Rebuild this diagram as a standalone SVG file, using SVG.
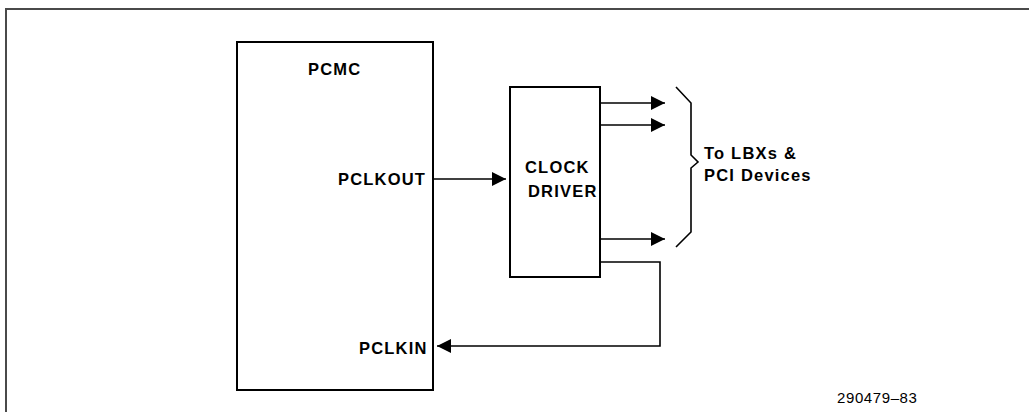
<svg xmlns="http://www.w3.org/2000/svg" width="1029" height="412" viewBox="0 0 1029 412">
<style>
.box{fill:#fff;stroke:#000;stroke-width:2}
.ln{fill:none;stroke:#000;stroke-width:1.6}
.lb{font-family:"Liberation Sans",Arial,sans-serif;font-weight:bold;font-size:16.5px;letter-spacing:1.2px;fill:#000}
.fn{font-family:"Liberation Sans",Arial,sans-serif;font-size:15px;letter-spacing:0.6px;fill:#000}
</style>
<defs>
<marker id="ah" viewBox="0 0 14 14" refX="14" refY="7" markerWidth="14" markerHeight="14" markerUnits="userSpaceOnUse" orient="auto">
<path d="M0,0 L14,7 L0,14 Z" fill="#000"/>
</marker>
</defs>
<rect width="1029" height="412" fill="#fff"/>
<g id="frame">
<path d="M6,412 V9 H1029" fill="none" stroke="#4a4a4a" stroke-width="2"/>
</g>
<g id="pcmc">
<rect class="box" x="237" y="42" width="196" height="348"/>
<text class="lb" x="308" y="75">PCMC</text>
<text class="lb" x="338" y="185">PCLKOUT</text>
<text class="lb" x="359" y="354">PCLKIN</text>
</g>
<g id="clockdriver">
<rect class="box" x="510" y="87" width="90" height="190"/>
<text class="lb" x="525" y="173">CLOCK</text>
<text class="lb" x="528" y="197">DRIVER</text>
</g>
<g id="targets">
<path class="ln" d="M676,87 L691,103 V155 L698,162 L691,168 V232 L676,247"/>
<text class="lb" x="704" y="159">To LBXs &amp;</text>
<text class="lb" x="704" y="181">PCI Devices</text>
</g>
<g id="connectors">
<line class="ln" x1="433" y1="179" x2="506" y2="179" marker-end="url(#ah)"/>
<line class="ln" x1="600" y1="103" x2="665" y2="103" stroke-width="2" marker-end="url(#ah)"/>
<line class="ln" x1="600" y1="125" x2="665" y2="125" stroke-width="2" marker-end="url(#ah)"/>
<line class="ln" x1="600" y1="239" x2="665" y2="239" stroke-width="2" marker-end="url(#ah)"/>
<path class="ln" d="M600,262 H660 V346 H437" marker-end="url(#ah)"/>
</g>
<text class="fn" x="837" y="403">290479–83</text>
</svg>
